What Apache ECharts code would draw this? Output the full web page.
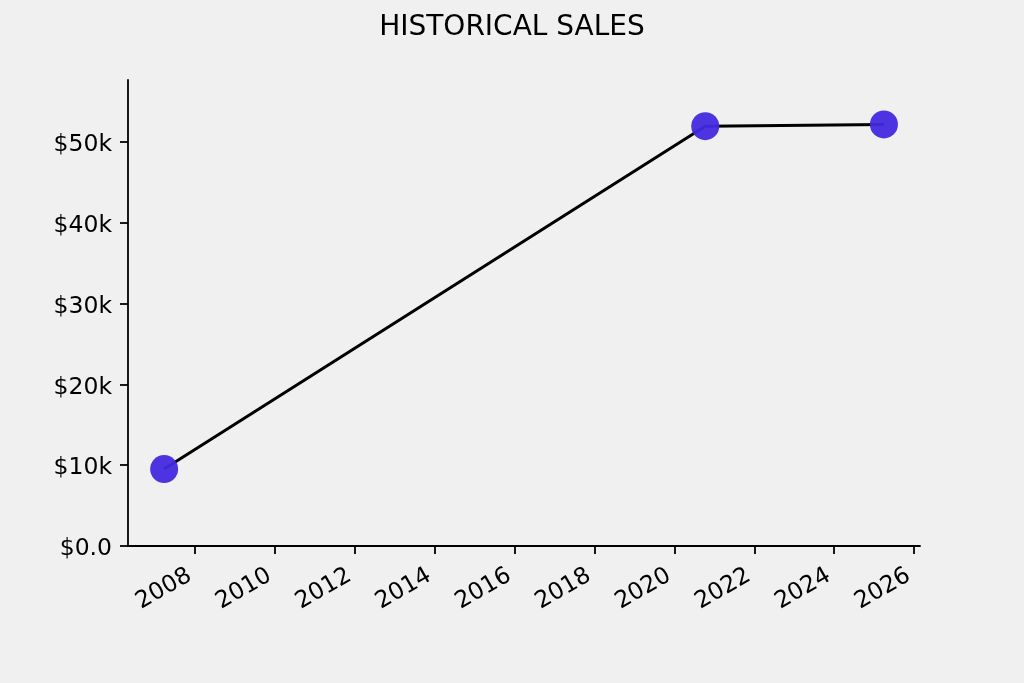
<!DOCTYPE html>
<html>
<head>
<meta charset="utf-8">
<script src="https://cdn.jsdelivr.net/npm/echarts@6/dist/echarts.min.js"></script>
<style>html,body{margin:0;padding:0;background:#f0f0f0;}#c{width:1024px;height:683px;}</style>
</head>
<body>
<div id="c"></div>
<script>
const dates = ['2007-03-24', '2020-10-10', '2025-04-01'];
const sales = [9530, 51980, 52200];
const xTicks = [2008, 2010, 2012, 2014, 2016, 2018, 2020, 2022, 2024, 2026];
const yTicks = [0, 10000, 20000, 30000, 40000, 50000];

function toYear(s) {
  const d = new Date(s + 'T00:00:00Z');
  const y = d.getUTCFullYear();
  const start = Date.UTC(y, 0, 1), end = Date.UTC(y + 1, 0, 1);
  return y + (d.getTime() - start) / (end - start);
}
const pts = dates.map((d, i) => [toYear(d), sales[i]]);

const chart = echarts.init(document.getElementById('c'));
const font = 'DejaVu Sans';
chart.setOption({
  backgroundColor: '#f0f0f0',
  animation: false,
  title: {
    text: 'HISTORICAL SALES', left: 'center', top: 9,
    textStyle: { fontFamily: font, fontSize: 28, fontWeight: 'normal', color: '#000' }
  },
  grid: { left: 128, right: 104, top: 80, bottom: 137 },
  xAxis: {
    type: 'value', min: 2006.32, max: 2026.15,
    splitLine: { show: false },
    axisLine: { lineStyle: { color: '#000', width: 1.8 } },
    axisTick: { customValues: xTicks, length: 8, lineStyle: { color: '#000', width: 1.8 } },
    axisLabel: { customValues: xTicks, rotate: 30, margin: 11, align: 'right', verticalAlign: 'top',
      padding: [0, 13, 0, 0],
      color: '#000', fontFamily: font, fontSize: 23.5, formatter: v => String(v) }
  },
  yAxis: {
    type: 'value', min: 0, max: 57700,
    splitLine: { show: false },
    axisLine: { show: true, lineStyle: { color: '#000', width: 1.8 } },
    axisTick: { show: true, customValues: yTicks, length: 8, lineStyle: { color: '#000', width: 1.8 } },
    axisLabel: { customValues: yTicks, margin: 16, color: '#000', fontFamily: font, fontSize: 23.5,
      formatter: v => '{a|' + (v === 0 ? '$0.0' : '$' + (v / 1000) + 'k') + '}',
      rich: { a: { fontFamily: font, fontSize: 23.5, color: '#000', padding: [6, 0, 0, 0] } } }
  },
  series: [{
    type: 'line', data: pts,
    symbol: 'circle', symbolSize: 28,
    lineStyle: { color: '#000', width: 3 },
    itemStyle: { color: 'rgba(66,42,222,0.95)', borderWidth: 0 }
  }]
});
</script>
</body>
</html>
